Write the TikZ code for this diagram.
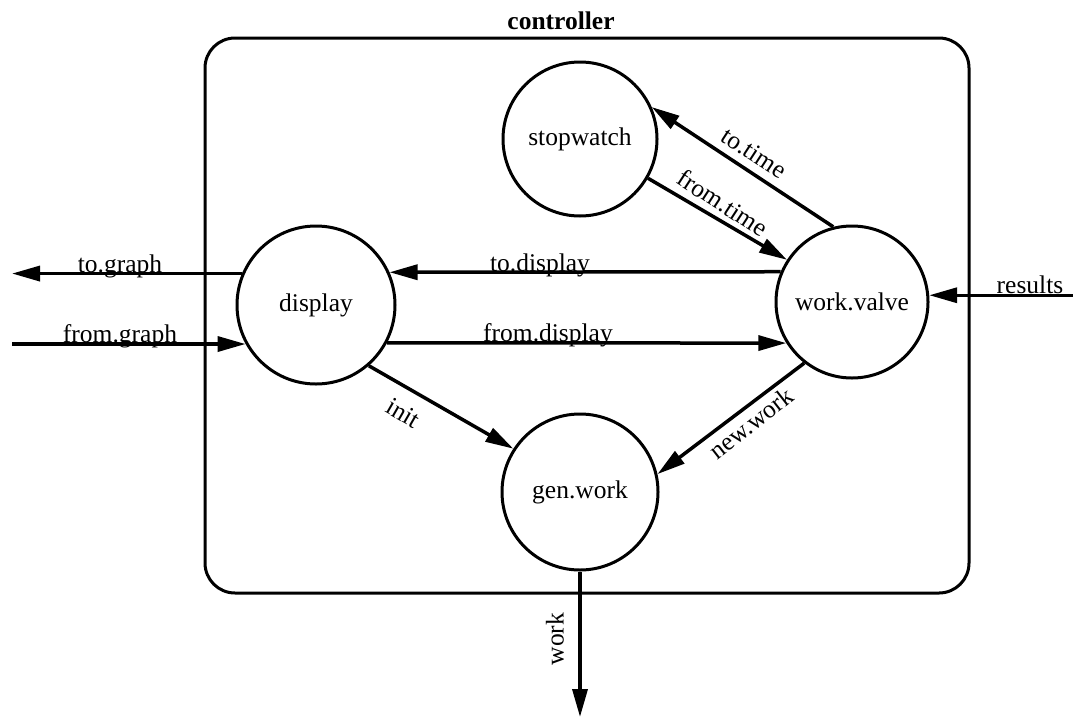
\documentclass[tikz,border=0pt]{standalone}
\usepackage{fontspec}
\setmainfont{Liberation Serif}
\usetikzlibrary{arrows.meta}
\begin{document}
\begin{tikzpicture}[x=1pt,y=-1pt,
  proc/.style={circle,draw,line width=3pt,inner sep=0pt,minimum size=#1,font=\fontsize{25.5}{30}\selectfont},
  flow/.style={line width=3.5pt,-{Triangle[length=28pt,width=15pt]}},
  lbl/.style={font=\fontsize{25.5}{30}\selectfont,inner sep=0pt}]
\useasboundingbox (0,0) rectangle (1073,718);
% container
\node[draw,line width=3pt,rounded corners=30pt,minimum width=764pt,minimum height=555pt,inner sep=0pt] (ctrl) at (587,315.5) {};
\node[font=\fontsize{25.5}{30}\selectfont\bfseries,inner sep=0pt] (ctrlname) at (561,21) {controller};
% processes
\node[proc=154pt] (stop) at (580,139) {stopwatch};
\node[proc=158pt] (disp) at (316,305) {display};
\node[proc=152pt] (valve) at (852,302) {work.valve};
\node[proc=156pt] (gen) at (580,492) {gen.work};
% free ends
\coordinate (tgEnd) at (12,274);
\coordinate (fgStart) at (12,344);
\coordinate (resStart) at (1073,295);
\coordinate (workEnd) at (580,717);
% connectors
\draw[flow] (disp.157) -- (disp.157 -| tgEnd);
\draw[flow] (fgStart |- disp.209.5) -- (disp.209.5);
\draw[flow] (valve.157.6) -- (disp.24);
\draw[flow] (disp.-28.7) -- (valve.212.6);
\draw[flow] (resStart |- valve.5) -- (valve.5);
\draw[flow] (valve.104.8) -- (stop.24);
\draw[flow] (stop.-30.4) -- (valve.147.9);
\draw[flow] (disp.-49.6) -- (gen.147);
\draw[flow] (valve.232.4) -- (gen.13.7);
\draw[flow] (gen.south) -- (workEnd);
% labels
\node[lbl,anchor=base] (ltg) at (120,272) {to.graph};
\node[lbl,anchor=base] (lfg) at (120,342) {from.graph};
\node[lbl,anchor=base] (ltd) at (540,271) {to.display};
\node[lbl,anchor=base] (lfd) at (548,341) {from.display};
\node[lbl,anchor=base] (lres) at (1030,293) {results};
\node[lbl,rotate=-33] (ltt) at (754,153) {to.time};
\node[lbl,rotate=-33] (lft) at (723,203) {from.time};
\node[lbl,rotate=-30] (linit) at (403,413) {init};
\node[lbl,rotate=38] (lnw) at (751,423) {new.work};
\node[lbl,rotate=90] (lwork) at (555,639) {work};
\end{tikzpicture}
\end{document}
